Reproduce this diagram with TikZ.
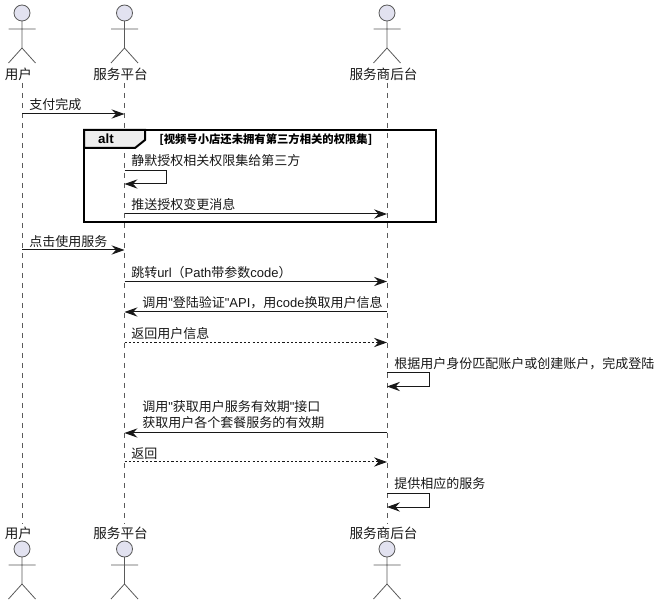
\documentclass[tikz,border=0pt]{standalone}
\usepackage{fontspec}
\setmainfont{Noto Sans CJK SC}
\newfontfamily\altfont{Liberation Sans}
\newcommand{\lat}[1]{{\altfont #1}}
\usetikzlibrary{arrows.meta}
\definecolor{actfill}{HTML}{E2E2F0}
\definecolor{actline}{HTML}{5A5A5A}
\definecolor{ink}{HTML}{181818}
\tikzset{
  lifeline/.style={draw=actline,line width=.6pt,dash pattern=on 3.75pt off 3.75pt},
  limb/.style={draw=actline,line width=.6pt},
  msg/.style={draw=ink,line width=.75pt,-{Stealth[length=9.8pt,width=7pt,inset=3.4pt]}},
  reply/.style={msg,dash pattern=on 1.6pt off 1.6pt},
  mtext/.style={anchor=west,inner sep=0pt,text=ink,font=\fontsize{9.75pt}{12.6pt}\selectfont},
  actlabel/.style={inner sep=0pt,text=ink,font=\fontsize{10.2pt}{12pt}\selectfont},
  frameline/.style={draw=black,line width=1.5pt},
  actor/.pic={
    \draw[limb,fill=actfill] (0,13) circle (8);
    \draw[limb] (0,21) -- (0,48) (-13.5,29) -- (13.5,29) (-13.5,63) -- (0,48) -- (13.5,63);
  }
}
\begin{document}
\begin{tikzpicture}[x=.75pt,y=-.75pt]
\useasboundingbox[fill=white] (0,0) rectangle (660,605);
\coordinate (u) at (22,0);
\coordinate (p) at (124.5,0);
\coordinate (b) at (387,0);
% top labels
\node[actlabel] (ut) at (18.5,74) {用户};
\node[actlabel] (pt) at (120.5,74) {服务平台};
\node[actlabel] (bt) at (383.5,74) {服务商后台};
% bottom labels
\node[actlabel] (ub) at (18.5,533) {用户};
\node[actlabel] (pb) at (120.5,533) {服务平台};
\node[actlabel] (bb) at (383.5,533) {服务商后台};
% lifelines
\draw[lifeline] (u |- 0,83) -- (u |- 0,524);
\draw[lifeline] (p |- 0,83) -- (p |- 0,524);
\draw[lifeline] (b |- 0,83) -- (b |- 0,524);
% actors
\foreach \c in {22,124.5,387} {
  \pic at (\c,0) {actor};
  \pic at (\c,536) {actor};
}
% alt frame
\draw[frameline] (84,130) rectangle (436,222);
\draw[frameline,fill=black!7] (84,130) -- (145,130) -- (145,140) -- (135,148) -- (84,148) -- cycle;
\node[inner sep=0pt,text=black,font=\altfont\bfseries\fontsize{10pt}{12pt}\selectfont] (altl) at (106,139) {alt};
\node[anchor=west,inner sep=0pt,text=black,font=\bfseries\fontsize{8.5pt}{10pt}\selectfont] (altc) at (159,139.5) {[视频号小店还未拥有第三方相关的权限集]};
% messages
\node[mtext] (t1) at (29,105) {支付完成};
\draw[msg] (u |- 0,114) -- (p |- 0,114);
\node[mtext] (t2) at (131,161) {静默授权相关权限集给第三方};
\draw[msg] (p |- 0,170.5) -- (166.5,170.5) -- (166.5,184) -- (p |- 0,184);
\node[mtext] (t3) at (131,205) {推送授权变更消息};
\draw[msg] (p |- 0,214) -- (b |- 0,214);
\node[mtext] (t4) at (29,242) {点击使用服务};
\draw[msg] (u |- 0,250) -- (p |- 0,250);
\node[mtext] (t5) at (131,273) {跳转\lat{url}（\lat{Path}带参数\lat{code}）};
\draw[msg] (p |- 0,281.5) -- (b |- 0,281.5);
\node[mtext] (t6) at (142,303) {调用\lat{"}登陆验证\lat{"API}，用\lat{code}换取用户信息};
\draw[msg] (b |- 0,312) -- (p |- 0,312);
\node[mtext] (t7) at (131,334) {返回用户信息};
\draw[reply] (p |- 0,342.5) -- (b |- 0,342.5);
\node[mtext] (t8) at (394,364) {根据用户身份匹配账户或创建账户，完成登陆};
\draw[msg] (b |- 0,373) -- (429.5,373) -- (429.5,386.5) -- (b |- 0,386.5);
\node[mtext,align=left] (t9) at (142,414.5) {调用\lat{"}获取用户服务有效期\lat{"}接口\\获取用户各个套餐服务的有效期};
\draw[msg] (b |- 0,433) -- (p |- 0,433);
\node[mtext] (t10) at (131,454) {返回};
\draw[reply] (p |- 0,462) -- (b |- 0,462);
\node[mtext] (t11) at (394,484) {提供相应的服务};
\draw[msg] (b |- 0,493) -- (429.5,493) -- (429.5,507) -- (b |- 0,507);
\end{tikzpicture}
\end{document}
